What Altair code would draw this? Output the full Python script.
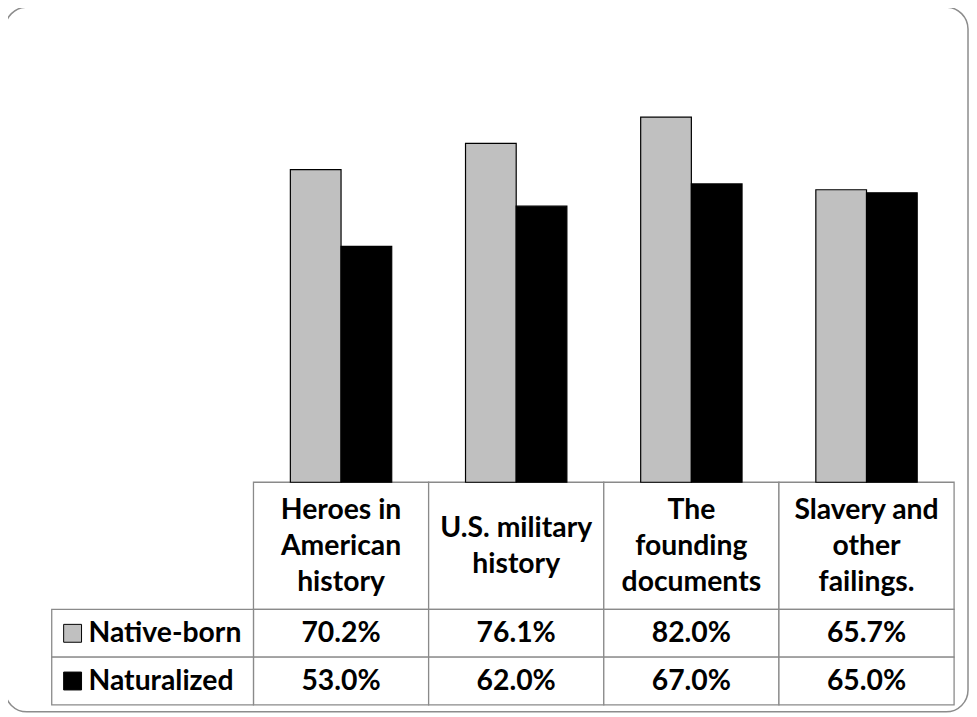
import altair as alt
import pandas as pd

# ---- data -------------------------------------------------------------
categories = [
    "Heroes in American history",
    "U.S. military history",
    "The founding documents",
    "Slavery and other failings.",
]
header_labels = [
    "Heroes in\nAmerican\nhistory",
    "U.S. military\nhistory",
    "The\nfounding\ndocuments",
    "Slavery and\nother\nfailings.",
]
series = ["Native-born", "Naturalized"]
native_born = [70.2, 76.1, 82.0, 65.7]
naturalized = [53.0, 62.0, 67.0, 65.0]
series_colors = ["#C0C0C0", "#000000"]

# table row edges (below the bar baseline, in value-axis units)
row_edges = [0.0, -28.57, -39.29, -50.0]

# ---- tables -------------------------------------------------------------
values_by_series = {"Native-born": native_born, "Naturalized": naturalized}

bars = pd.DataFrame(
    [
        {"category": c, "series": s, "value": values_by_series[s][i]}
        for s in series
        for i, c in enumerate(categories)
    ]
)

cells = pd.DataFrame(
    [
        {"category": c, "y0": row_edges[r], "y1": row_edges[r + 1]}
        for c in categories
        for r in range(3)
    ]
)

headers = pd.DataFrame(
    {
        "category": categories,
        "label": header_labels,
        "nlines": [lab.count("\n") + 1 for lab in header_labels],
        "ymid": [(row_edges[0] + row_edges[1]) / 2] * len(categories),
    }
)

value_text = pd.DataFrame(
    [
        {
            "category": c,
            "series": s,
            "label": f"{values_by_series[s][i]:.1f}%",
            "ymid": (row_edges[k + 1] + row_edges[k + 2]) / 2,
        }
        for k, s in enumerate(series)
        for i, c in enumerate(categories)
    ]
)

legend_rows = pd.DataFrame(
    [
        {
            "series": s,
            "y0": row_edges[k + 1],
            "y1": row_edges[k + 2],
            "ymid": (row_edges[k + 1] + row_edges[k + 2]) / 2,
        }
        for k, s in enumerate(series)
    ]
)

# ---- encodings ----------------------------------------------------------
FONT = "Lato"
FS = 28.5
LINE_H = 36
GRID = "#8a8a8a"

x_enc = alt.X(
    "category:N",
    sort=categories,
    scale=alt.Scale(range=[203, 908], paddingInner=0, paddingOuter=0),
    axis=None,
)
y_scale = alt.Scale(domain=[-50, 100], nice=False, zero=False)
color_enc = alt.Color(
    "series:N",
    sort=series,
    scale=alt.Scale(domain=series, range=series_colors),
    legend=None,
)

cell_layer = (
    alt.Chart(cells)
    .mark_rect(fill="white", stroke=GRID, strokeWidth=1.3)
    .encode(
        x=x_enc,
        y=alt.Y("y0:Q", scale=y_scale, axis=None),
        y2="y1:Q",
    )
)

label_cells = (
    alt.Chart(legend_rows)
    .mark_rect(fill="white", stroke=GRID, strokeWidth=1.3)
    .encode(
        x=alt.value(0),
        x2=alt.value(203),
        y=alt.Y("y0:Q", scale=y_scale, axis=None),
        y2="y1:Q",
    )
)

bar_layer = (
    alt.Chart(bars)
    .mark_bar(stroke="black", strokeWidth=1.2)
    .encode(
        x=x_enc,
        xOffset=alt.XOffset(
            "series:N",
            sort=series,
            scale=alt.Scale(paddingInner=0, paddingOuter=0.728),
        ),
        y=alt.Y("value:Q", scale=y_scale, axis=None),
        y2=alt.datum(0),
        color=color_enc,
    )
)


def header_layer(n):
    return (
        alt.Chart(headers)
        .transform_filter(alt.datum.nlines == n)
        .mark_text(
            font=FONT,
            fontSize=FS,
            fontWeight="bold",
            color="black",
            lineBreak="\n",
            lineHeight=LINE_H,
            align="center",
            baseline="middle",
            dy=-(n - 1) * LINE_H / 2,
        )
        .encode(
            x=x_enc,
            y=alt.Y("ymid:Q", scale=y_scale, axis=None),
            text="label:N",
        )
    )


value_layer = (
    alt.Chart(value_text)
    .mark_text(
        font=FONT,
        fontSize=FS,
        fontWeight="bold",
        color="black",
        align="center",
        baseline="middle",
    )
    .encode(
        x=x_enc,
        y=alt.Y("ymid:Q", scale=y_scale, axis=None),
        text="label:N",
    )
)

legend_marks = (
    alt.Chart(legend_rows)
    .mark_point(shape="square", filled=True, size=324, stroke="black", strokeWidth=1, opacity=1)
    .encode(
        x=alt.value(21),
        y=alt.Y("ymid:Q", scale=y_scale, axis=None),
        fill=alt.Fill(
            "series:N",
            sort=series,
            scale=alt.Scale(domain=series, range=series_colors),
            legend=None,
        ),
    )
)

legend_text = (
    alt.Chart(legend_rows)
    .mark_text(
        font=FONT,
        fontSize=FS,
        fontWeight="bold",
        color="black",
        align="left",
        baseline="middle",
    )
    .encode(
        x=alt.value(37),
        y=alt.Y("ymid:Q", scale=y_scale, axis=None),
        text="series:N",
    )
)

frame = (
    alt.Chart(alt.Data(values=[{"f": 1}]))
    .mark_rect(fill="white", fillOpacity=0, stroke="#8c8c8c", strokeWidth=1.5, cornerRadius=22)
    .encode(
        x=alt.value(-47),
        x2=alt.value(922),
        y=alt.value(-30),
        y2=alt.value(679),
    )
)

chart = (
    alt.layer(
        cell_layer,
        label_cells,
        bar_layer,
        header_layer(2),
        header_layer(3),
        value_layer,
        legend_marks,
        legend_text,
        frame,
    )
    .properties(
        width=908,
        height=672,
        padding={"left": 44, "top": 27, "right": 15, "bottom": 8},
        autosize=alt.AutoSizeParams(type="none"),
        background="white",
    )
    .configure_view(stroke=None)
)

chart.save("out.html", embed_options={"renderer": "svg", "actions": False})
